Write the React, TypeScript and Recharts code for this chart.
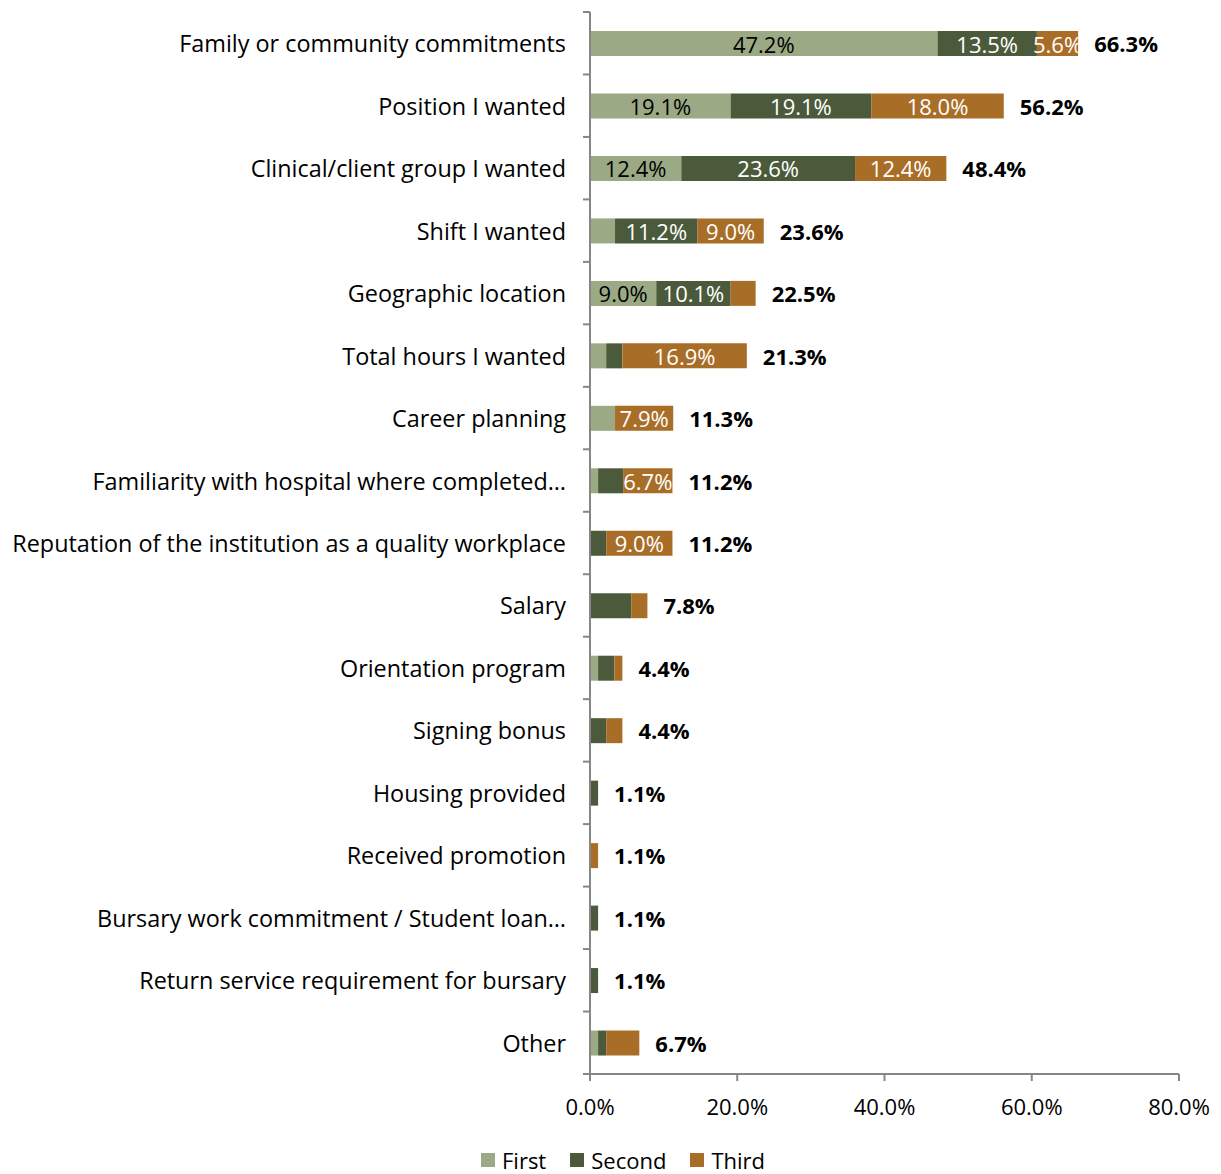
import React from "react";
import {
  ComposedChart,
  Bar,
  Line,
  XAxis,
  YAxis,
  Legend,
  LabelList,
} from "recharts";

// categories, top to bottom
const reasons = [
  "Family or community commitments",
  "Position I wanted",
  "Clinical/client group I wanted",
  "Shift I wanted",
  "Geographic location",
  "Total hours I wanted",
  "Career planning",
  "Familiarity with hospital where completed…",
  "Reputation of the institution as a quality workplace",
  "Salary",
  "Orientation program",
  "Signing bonus",
  "Housing provided",
  "Received promotion",
  "Bursary work commitment / Student loan…",
  "Return service requirement for bursary",
  "Other",
];

const first = [47.2, 19.1, 12.4, 3.4, 9.0, 2.2, 3.4, 1.1, 0, 0, 1.1, 0, 0, 0, 0, 0, 1.1];
const second = [13.5, 19.1, 23.6, 11.2, 10.1, 2.2, 0, 3.4, 2.2, 5.6, 2.2, 2.2, 1.1, 0, 1.1, 1.1, 1.1];
const third = [5.6, 18.0, 12.4, 9.0, 3.4, 16.9, 7.9, 6.7, 9.0, 2.2, 1.1, 2.2, 0, 1.1, 0, 0, 4.5];
const totals = [66.3, 56.2, 48.4, 23.6, 22.5, 21.3, 11.3, 11.2, 11.2, 7.8, 4.4, 4.4, 1.1, 1.1, 1.1, 1.1, 6.7];

// rows whose segment carries a value label inside the bar
const firstLabelled = [0, 1, 2, 4];
const secondLabelled = [0, 1, 2, 3, 4];
const thirdLabelled = [0, 1, 2, 3, 5, 6, 7, 8];

const xTicks = [0, 20, 40, 60, 80];

const data = reasons.map((name, i) => ({
  name,
  first: first[i],
  second: second[i],
  third: third[i],
  total: totals[i],
}));

const FONT = "'Open Sans', sans-serif";
const AXIS = "#868686";
const C_FIRST = "#9BAA85";
const C_SECOND = "#4B5A3B";
const C_THIRD = "#A86E27";

const W = 1213;
const H = 1166;
const MARGIN = { top: 4, right: 42, bottom: 0, left: 0 };
const Y_WIDTH = 582;
const PLOT_H = 1062;
const BAND = PLOT_H / reasons.length;

const legendItems = [
  { name: "First", color: C_FIRST },
  { name: "Second", color: C_SECOND },
  { name: "Third", color: C_THIRD },
];

const inner = (shown: number[], color: string) => (props: any) => {
  const { x, y, width, height, value, index } = props;
  if (!shown.includes(index) || !value) return null;
  return (
    <text
      x={x + width / 2}
      y={y + height / 2}
      textAnchor="middle"
      dominantBaseline="central"
      fill={color}
      fontSize={22}
      fontFamily={FONT}
    >
      {`${Number(value).toFixed(1)}%`}
    </text>
  );
};

const TotalLabel = (props: any) => {
  const { x, y, value } = props;
  return (
    <text
      x={x + 16}
      y={y}
      dominantBaseline="central"
      fill="#000"
      fontSize={22}
      fontWeight="bold"
      fontFamily={FONT}
    >
      {`${Number(value).toFixed(1)}%`}
    </text>
  );
};

const CategoryTick = (props: any) => {
  const { x, y, payload, index } = props;
  const ax = x + 24;
  return (
    <g>
      <line x1={ax - 7} x2={ax} y1={y - BAND / 2} y2={y - BAND / 2} stroke={AXIS} strokeWidth={2} />
      {index === reasons.length - 1 && (
        <line x1={ax - 7} x2={ax} y1={y + BAND / 2} y2={y + BAND / 2} stroke={AXIS} strokeWidth={2} />
      )}
      <text
        x={x}
        y={y}
        textAnchor="end"
        dominantBaseline="central"
        fill="#000"
        fontSize={23.4}
        fontFamily={FONT}
      >
        {payload.value}
      </text>
    </g>
  );
};

const LegendBox = () => (
  <div
    style={{
      height: 40,
      paddingTop: 12,
      boxSizing: "border-box",
      display: "flex",
      justifyContent: "center",
      alignItems: "center",
      fontFamily: FONT,
      fontSize: 22,
      lineHeight: "22px",
      color: "#000",
      paddingLeft: 59,
    }}
  >
    {legendItems.map((it, i) => (
      <span
        key={it.name}
        style={{ display: "flex", alignItems: "center", marginRight: i < legendItems.length - 1 ? 24 : 0 }}
      >
        <span style={{ width: 14, height: 14, background: it.color, marginRight: 7 }} />
        {it.name}
      </span>
    ))}
  </div>
);

export default function App() {
  return (
    <ComposedChart
      width={W}
      height={H}
      data={data}
      layout="vertical"
      margin={MARGIN}
      barSize={25}
    >
      <XAxis
        type="number"
        domain={[0, 80]}
        ticks={xTicks}
        tickFormatter={(v) => `${v.toFixed(1)}%`}
        stroke={AXIS}
        strokeWidth={2}
        tickSize={7}
        tickMargin={18}
        height={60}
        tick={{ fill: "#000", fontSize: 22, fontFamily: FONT }}
      />
      <YAxis
        type="category"
        dataKey="name"
        width={Y_WIDTH}
        stroke={AXIS}
        strokeWidth={2}
        tickLine={false}
        tickSize={0}
        tickMargin={24}
        interval={0}
        tick={<CategoryTick />}
      />
      <Legend verticalAlign="bottom" align="center" content={<LegendBox />} />
      <Bar dataKey="first" name="First" stackId="a" fill={C_FIRST} isAnimationActive={false}>
        <LabelList dataKey="first" content={inner(firstLabelled, "#000")} />
      </Bar>
      <Bar dataKey="second" name="Second" stackId="a" fill={C_SECOND} isAnimationActive={false}>
        <LabelList dataKey="second" content={inner(secondLabelled, "#fff")} />
      </Bar>
      <Bar dataKey="third" name="Third" stackId="a" fill={C_THIRD} isAnimationActive={false}>
        <LabelList dataKey="third" content={inner(thirdLabelled, "#fff")} />
      </Bar>
      <Line
        dataKey="total"
        stroke="none"
        dot={false}
        activeDot={false}
        legendType="none"
        isAnimationActive={false}
      >
        <LabelList dataKey="total" content={TotalLabel} />
      </Line>
    </ComposedChart>
  );
}
